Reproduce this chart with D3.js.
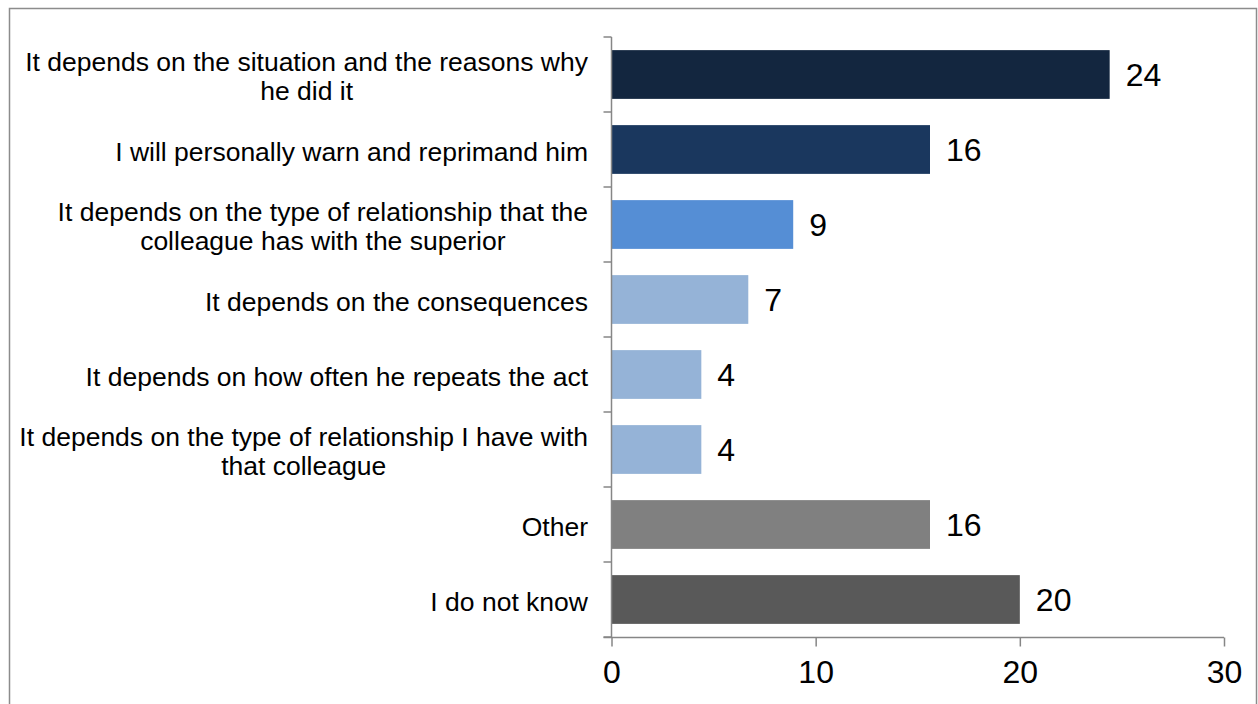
<!DOCTYPE html>
<html>
<head>
<meta charset="utf-8">
<script src="https://cdn.jsdelivr.net/npm/d3@7"></script>
<style>
  html, body { margin: 0; padding: 0; background: #fff; }
  svg { display: block; }
  text { font-family: "Liberation Sans", Arial, sans-serif; fill: #000; }
</style>
</head>
<body>
<svg id="chart" width="1258" height="704"></svg>
<script>
// Responses, top to bottom
const categories = [
  ["It depends on the situation and the reasons why", "he did it"],
  ["I will personally warn and reprimand him"],
  ["It depends on the type of relationship that the", "colleague has with the superior"],
  ["It depends on the consequences"],
  ["It depends on how often he repeats the act"],
  ["It depends on the type of relationship I have with", "that colleague"],
  ["Other"],
  ["I do not know"]
];
const values = [24.4, 15.6, 8.9, 6.7, 4.4, 4.4, 15.6, 20.0];
const colors = ["#13263f", "#1a375e", "#558ed5", "#95b3d7", "#95b3d7", "#95b3d7", "#808080", "#595959"];
const xTicks = [0, 10, 20, 30];

const svg = d3.select("#chart");
const axisColor = "#868686";

// outer frame
svg.append("rect")
  .attr("x", 9.5).attr("y", 8.5)
  .attr("width", 1247).attr("height", 720)
  .attr("fill", "none").attr("stroke", "#8c8c8c").attr("stroke-width", 1.5);

const x = d3.scaleLinear().domain([0, 30]).range([611.5, 1224]);
const idx = d3.range(categories.length);
const y = d3.scaleBand().domain(idx).range([37, 637]).paddingInner(0.35).paddingOuter(0.175);

// bars
svg.append("g").selectAll("rect")
  .data(idx).join("rect")
  .attr("x", x(0))
  .attr("y", i => y(i))
  .attr("width", i => x(values[i]) - x(0))
  .attr("height", y.bandwidth())
  .attr("fill", i => colors[i]);

// value labels
svg.append("g").selectAll("text")
  .data(idx).join("text")
  .attr("x", i => x(values[i]) + 16)
  .attr("y", i => y(i) + y.bandwidth() / 2)
  .attr("dy", "0.36em")
  .style("font-size", "32px")
  .text(i => Math.round(values[i]));

// y axis: line with category boundary ticks
const yAxisG = svg.append("g");
yAxisG.append("line")
  .attr("x1", x(0)).attr("x2", x(0))
  .attr("y1", 37).attr("y2", 637)
  .attr("stroke", axisColor).attr("stroke-width", 1.5);
const step = y.step();
yAxisG.selectAll("line.tick")
  .data(d3.range(categories.length + 1)).join("line")
  .attr("class", "tick")
  .attr("x1", x(0) - 8).attr("x2", x(0))
  .attr("y1", k => 37 + k * step).attr("y2", k => 37 + k * step)
  .attr("stroke", axisColor).attr("stroke-width", 1.5);

// category labels: block right-aligned, lines centered within block
const labelRight = 588;
const fontSize = 26.5, lineH = 29;
const labelG = svg.append("g");
idx.forEach(i => {
  const lines = categories[i];
  const g = labelG.append("g");
  const texts = lines.map(l => g.append("text").style("font-size", fontSize + "px").text(l));
  const widths = texts.map(t => t.node().getComputedTextLength());
  const maxW = d3.max(widths);
  const cy = y(i) + y.bandwidth() / 2;
  const top = cy - (lines.length - 1) * lineH / 2;
  texts.forEach((t, j) => {
    t.attr("text-anchor", "middle")
      .attr("x", labelRight - maxW / 2)
      .attr("y", top + j * lineH)
      .attr("dy", "0.42em");
  });
});

// x axis
const xAxis = d3.axisBottom(x).tickValues(xTicks).tickSize(9).tickPadding(14).tickSizeOuter(0);
const xg = svg.append("g").attr("transform", "translate(0,637.5)").call(xAxis);
xg.select(".domain").attr("stroke", axisColor).attr("stroke-width", 1.5)
  .attr("d", `M${x(0) - 8},0H${x(30)}`);
xg.selectAll(".tick line").attr("stroke", axisColor).attr("stroke-width", 1.5);
xg.selectAll(".tick text")
  .style("font-family", "'Liberation Sans', Arial, sans-serif")
  .style("font-size", "32px").attr("fill", "#000");
</script>
</body>
</html>
